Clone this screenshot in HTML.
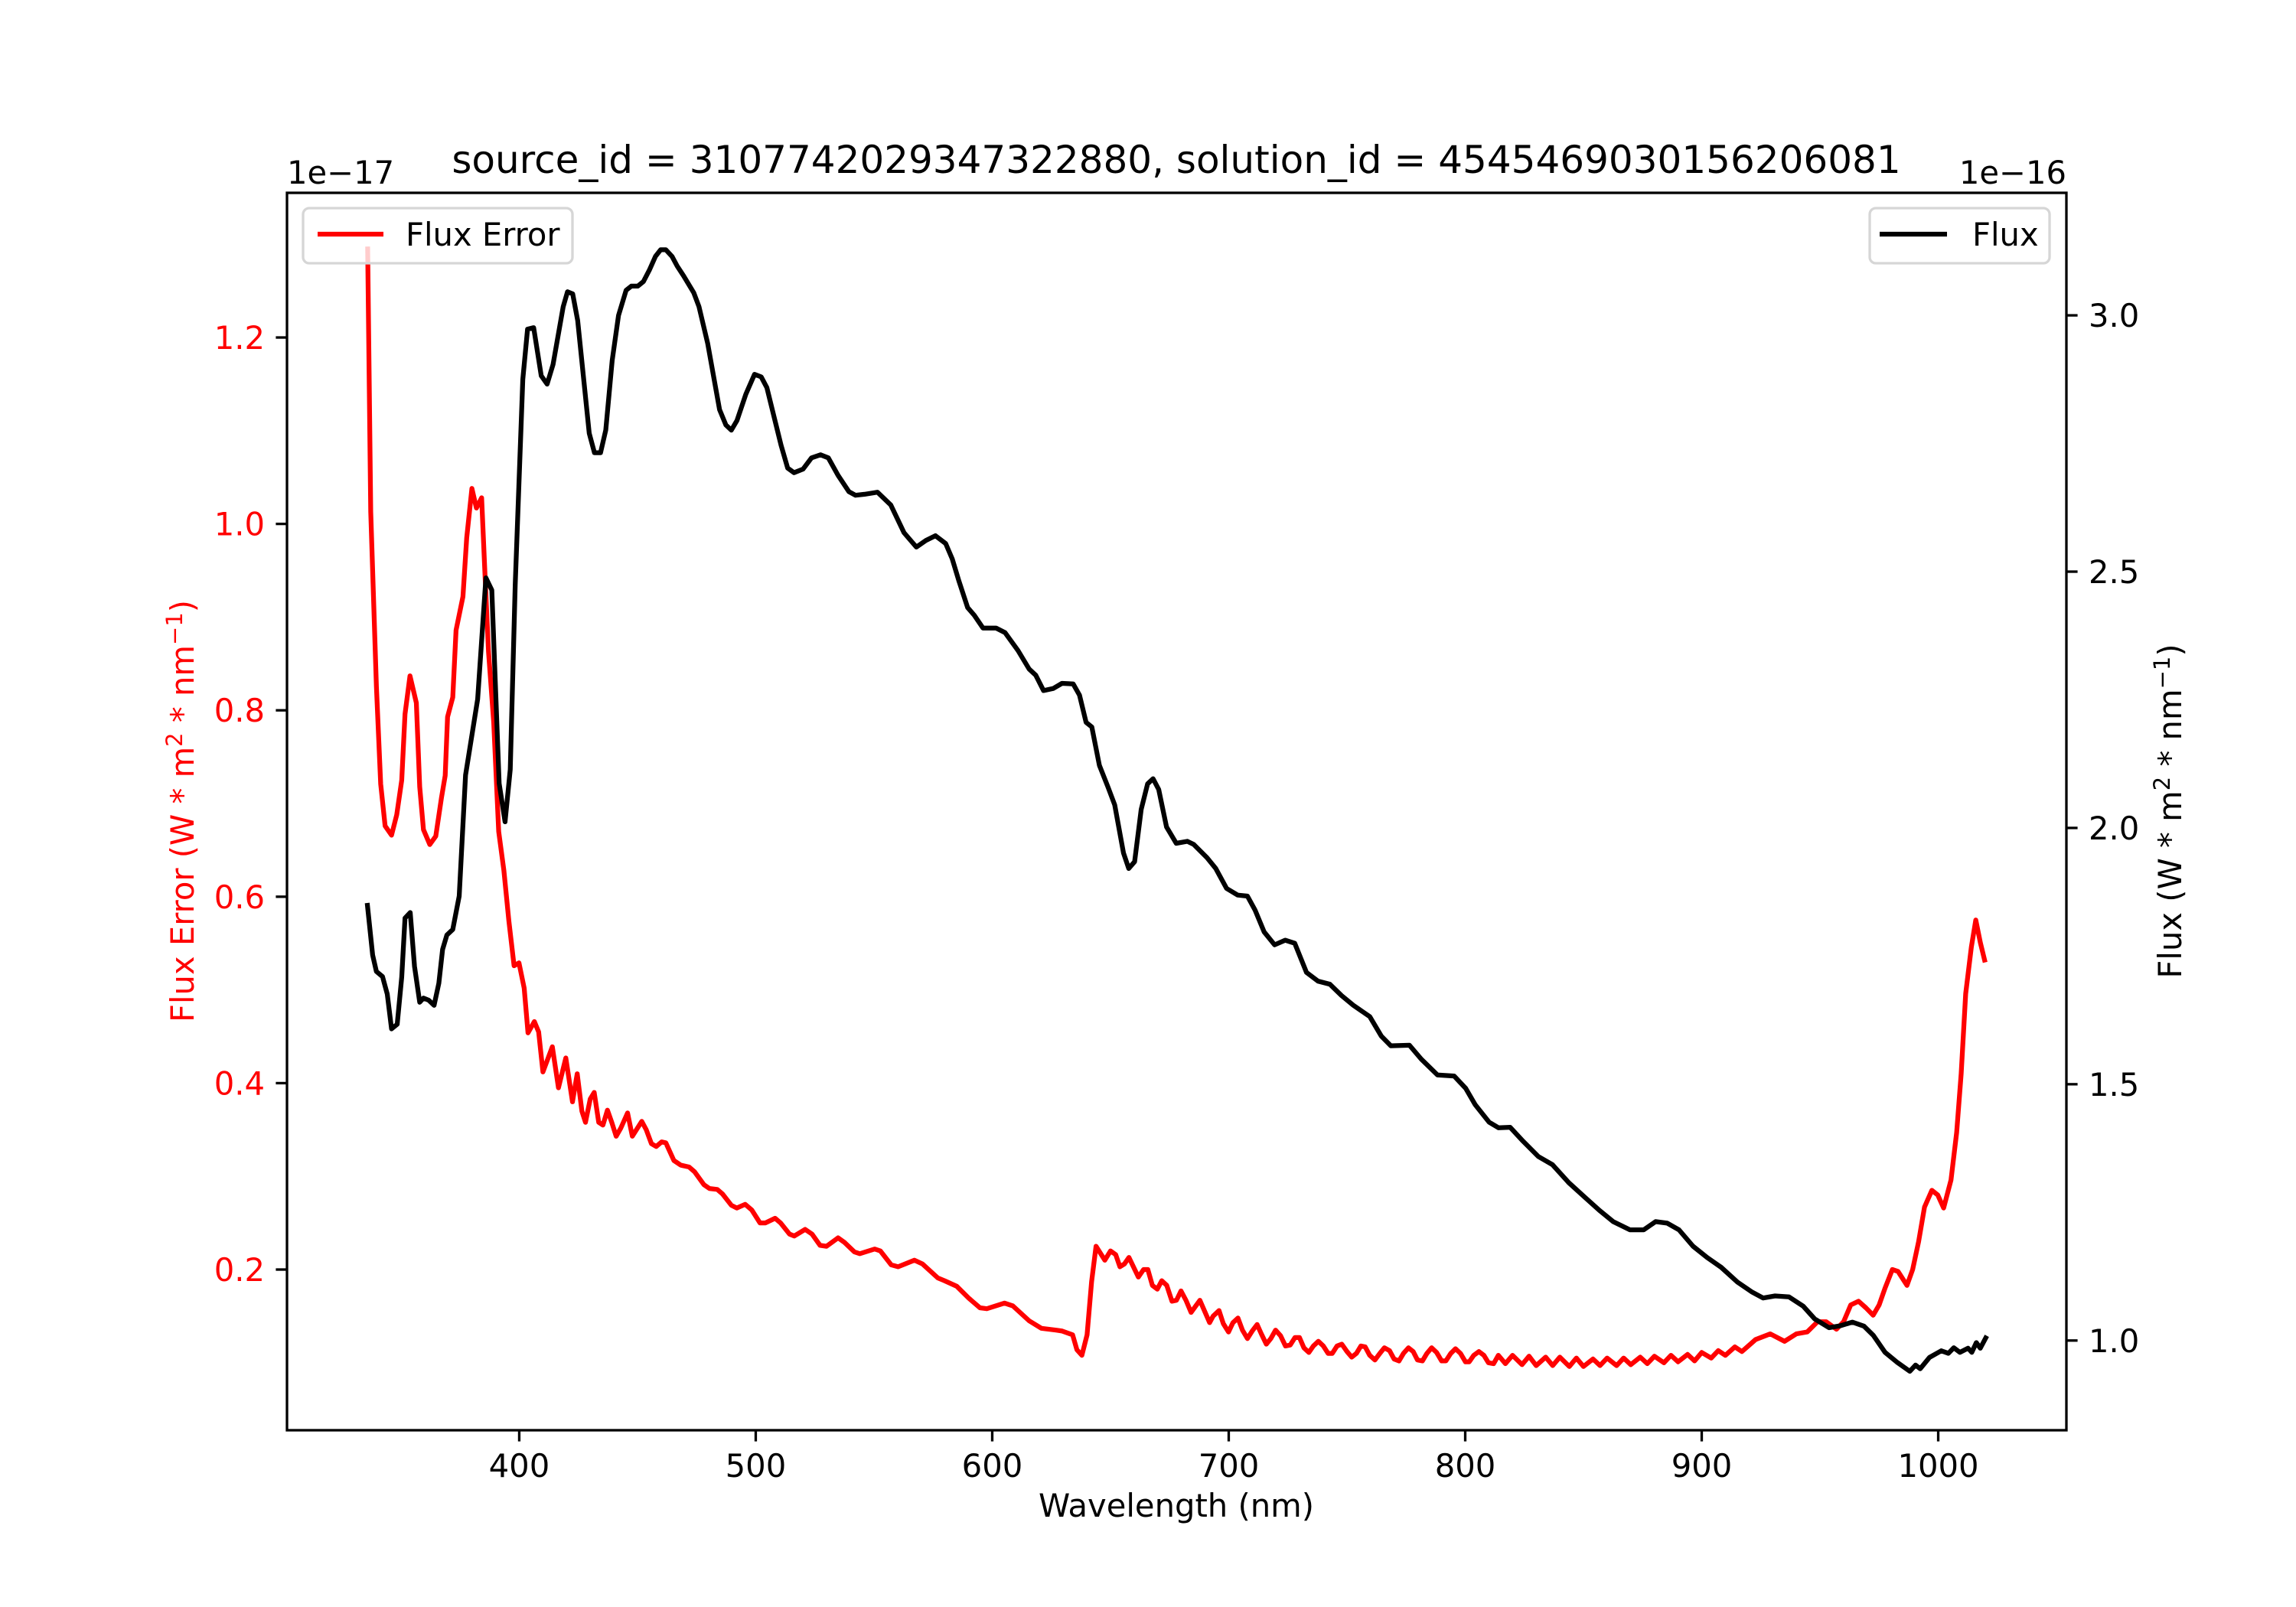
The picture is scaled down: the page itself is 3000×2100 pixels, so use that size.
<!DOCTYPE html>
<html><head><meta charset="utf-8"><style>
html,body{margin:0;padding:0;background:#fff;}
svg{display:block;font-family:"DejaVu Sans","Liberation Sans",sans-serif;}
</style></head><body>
<svg id="chart" width="3000" height="2100" viewBox="0 0 3000 2100" xmlns="http://www.w3.org/2000/svg">
<rect width="3000" height="2100" fill="#fff"/>
<g id="marks"></g>
<g id="axes"></g>
<text x="1537" y="226" font-size="50" text-anchor="middle">source_id = 3107742029347322880, solution_id = 4545469030156206081</text>
<text x="375" y="240" font-size="41.7">1e−17</text>
<text x="2700" y="240" font-size="41.7" text-anchor="end">1e−16</text>
<text x="1537" y="1982" font-size="41.7" text-anchor="middle">Wavelength (nm)</text>
<text fill="#ff0000" font-size="41.7" text-anchor="middle" transform="translate(253,1060) rotate(-90)">Flux Error (W * m<tspan font-size="29" dy="-15">2</tspan><tspan dy="15"> * nm</tspan><tspan font-size="29" dy="-15">−1</tspan><tspan dy="15">)</tspan></text>
<text fill="#000" font-size="41.7" text-anchor="middle" transform="translate(2850,1060) rotate(-90)">Flux (W * m<tspan font-size="29" dy="-15">2</tspan><tspan dy="15"> * nm</tspan><tspan font-size="29" dy="-15">−1</tspan><tspan dy="15">)</tspan></text>
<g>
<rect x="396" y="272" width="352" height="72" rx="8" fill="#fff" fill-opacity="0.8" stroke="#d6d6d6" stroke-width="3.3"/>
<line x1="415" y1="306" x2="501" y2="306" stroke="#ff0000" stroke-width="6.25"/>
<text x="530" y="321" font-size="41.7">Flux Error</text>
</g>
<g>
<rect x="2443" y="272" width="235" height="72" rx="8" fill="#fff" fill-opacity="0.8" stroke="#d6d6d6" stroke-width="3.3"/>
<line x1="2456" y1="306" x2="2544" y2="306" stroke="#000" stroke-width="6.25"/>
<text x="2577" y="321" font-size="41.7">Flux</text>
</g>
</svg>
<script>
const errWl = [335.9,337.2,339.6,341.4,343.3,346,348.2,350.3,351.7,353.8,356.5,357.9,359.5,362.2,364.7,367.1,368.7,369.7,371.9,373.3,376.2,377.8,380,381.9,384.1,385.4,387,389.2,391.3,393.5,395.6,397.8,399.9,402.1,403.7,406.4,408.2,410,414,416.6,419.7,422.5,424.5,426.5,428,430,431.7,433.6,435.4,437.3,439.1,441,443,445.8,447.8,451.8,453.7,455.9,457.9,460.2,462,465.4,468.3,471.8,474.1,478.1,480.4,483.7,486,489.7,492,495.5,498.3,501.8,504.1,508.2,510.5,514.3,516.3,520.9,523.8,527.2,529.9,534.8,537.6,541.7,544,550.3,552.7,557.3,560.2,567.1,570.5,577,579.8,585,590.2,594.8,597.7,605.2,608.7,615.6,620.8,627,629.6,634,635.8,637.9,640.1,642,643.9,647.6,650,652.2,654,655.9,657.8,661.8,664,665.8,667.7,669.8,671.7,673.8,676,677.9,679.8,681.9,684.1,687.8,691.9,693.4,695.9,697.7,699.9,701.8,703.9,705.8,707.9,709.9,712,713.8,715.9,717.8,719.8,721.9,724,726,728,729.9,731.8,733.9,735.8,737.9,740,742,743.8,745.8,747.8,750,752,754,755.9,757.7,759.6,761.8,763.9,765.8,768,769.9,772,773.9,776,778,779.8,781.9,783.8,785.8,787.9,790,791.8,793.9,795.9,798,800.1,801.7,803.6,805.8,807.9,809.8,812,814,817,820,824,827,830,834,837,840,844,847,850,854,857,860,864,867,870,874,877,880,884,887,890,894,897,900,904,907,910,914,917,922.8,929,935,940,944.6,949,952.6,957,960,963,966.3,969.4,972.5,975,977.5,980.6,983,986.8,989.2,991.7,994.2,997.3,999.8,1002.3,1005.4,1007.8,1009.7,1011.6,1014,1015.9,1017.8,1019.6];
const errVal = [1.295,1.013,0.826,0.721,0.676,0.666,0.688,0.725,0.796,0.837,0.808,0.718,0.672,0.656,0.665,0.706,0.73,0.793,0.814,0.886,0.922,0.985,1.038,1.017,1.028,0.953,0.863,0.787,0.67,0.628,0.574,0.526,0.529,0.502,0.454,0.466,0.455,0.412,0.439,0.395,0.427,0.38,0.41,0.37,0.358,0.383,0.39,0.358,0.355,0.371,0.358,0.343,0.352,0.368,0.343,0.359,0.35,0.335,0.332,0.337,0.336,0.317,0.312,0.31,0.305,0.291,0.287,0.286,0.281,0.269,0.266,0.27,0.264,0.25,0.25,0.255,0.25,0.238,0.236,0.243,0.238,0.226,0.225,0.234,0.229,0.219,0.217,0.222,0.22,0.205,0.203,0.21,0.206,0.191,0.188,0.182,0.169,0.159,0.158,0.164,0.161,0.145,0.137,0.135,0.134,0.13,0.114,0.108,0.13,0.187,0.225,0.21,0.22,0.216,0.203,0.206,0.213,0.192,0.2,0.2,0.183,0.179,0.188,0.183,0.166,0.167,0.177,0.167,0.154,0.167,0.143,0.15,0.156,0.142,0.133,0.143,0.148,0.135,0.126,0.134,0.141,0.131,0.12,0.126,0.135,0.129,0.118,0.119,0.127,0.127,0.116,0.111,0.118,0.123,0.118,0.11,0.11,0.118,0.12,0.112,0.106,0.11,0.118,0.117,0.108,0.103,0.11,0.116,0.113,0.104,0.102,0.11,0.116,0.112,0.103,0.102,0.11,0.116,0.111,0.102,0.102,0.11,0.115,0.11,0.101,0.101,0.108,0.112,0.108,0.1,0.099,0.108,0.099,0.108,0.098,0.107,0.097,0.106,0.097,0.106,0.096,0.105,0.096,0.104,0.097,0.105,0.097,0.105,0.098,0.106,0.099,0.107,0.1,0.108,0.101,0.109,0.102,0.111,0.105,0.113,0.108,0.117,0.112,0.125,0.131,0.123,0.131,0.133,0.144,0.144,0.136,0.144,0.162,0.166,0.159,0.151,0.162,0.18,0.2,0.198,0.183,0.2,0.23,0.267,0.285,0.28,0.266,0.296,0.347,0.41,0.496,0.546,0.575,0.551,0.532];
const fluxWl = [335.8,338,339.6,342.2,344.2,346,348.4,350.3,351.7,353.9,355.7,357.9,359.5,361.7,364,366,367.6,369.4,371.9,374.6,377.3,382.4,385.9,388.4,391.5,394,396.2,398.3,401.5,403.5,406.1,409.3,411.8,414.3,418.6,420.4,422.6,424.7,427.4,429.6,431.8,434.4,436.6,439.3,442,445.2,447.4,450.1,452.5,455,457.6,459.8,462,464.6,466.8,469.5,473.8,476,479.7,484.7,487.4,489.7,492.1,495.8,499.5,502.3,504.7,507.9,510.7,513.5,516.2,520,523.6,527.4,530.7,534.8,539.4,542.2,546,551.5,557.1,562.7,567.9,572,576,580.3,583.1,585.9,589.6,592.4,596.1,601.6,605.4,610.9,615.6,618.4,621.7,625.8,629.5,634.2,636.9,639.7,642.1,645.3,649,651.8,655.5,657.7,660.2,663,665.7,668,670.4,673.7,677.8,682.5,685.2,690.8,694.5,699.1,703.8,707.9,711.1,715.0,719.4,723.9,727.9,732.9,737.8,742.8,747.7,752.7,759.6,764.5,768.5,776.4,781.4,788.3,795.3,800.2,804.2,810.1,814.1,819.0,824,830.9,836.9,843.8,850.7,856.7,862.6,869.6,875.5,880.5,885.4,890.4,896.3,902.3,908.2,915.1,921.1,926,931,936.9,942.9,947.8,953.8,958.7,963.7,968.6,972.6,977.5,982.5,988.0,990.4,992.4,996.3,1001.3,1004.3,1006.6,1009.2,1012.6,1014.2,1016.1,1017.8,1020.1];
const fluxVal = [1.849,1.752,1.72,1.71,1.676,1.608,1.617,1.709,1.824,1.835,1.73,1.66,1.668,1.664,1.654,1.697,1.763,1.791,1.802,1.867,2.103,2.251,2.488,2.464,2.087,2.012,2.114,2.475,2.875,2.973,2.976,2.882,2.866,2.904,3.017,3.046,3.042,2.99,2.869,2.77,2.732,2.732,2.776,2.912,3.0,3.049,3.057,3.057,3.066,3.088,3.115,3.128,3.128,3.115,3.096,3.077,3.044,3.017,2.945,2.816,2.786,2.776,2.795,2.846,2.885,2.88,2.859,2.799,2.747,2.702,2.693,2.7,2.722,2.728,2.722,2.688,2.656,2.649,2.651,2.655,2.63,2.576,2.548,2.561,2.57,2.555,2.525,2.482,2.43,2.415,2.39,2.39,2.381,2.346,2.31,2.298,2.268,2.272,2.282,2.281,2.259,2.206,2.197,2.122,2.079,2.045,1.951,1.921,1.934,2.036,2.086,2.096,2.075,2.002,1.97,1.974,1.968,1.942,1.921,1.882,1.869,1.867,1.84,1.797,1.772,1.781,1.775,1.718,1.701,1.695,1.673,1.654,1.632,1.594,1.575,1.576,1.549,1.518,1.516,1.492,1.46,1.426,1.415,1.416,1.391,1.359,1.343,1.308,1.279,1.254,1.232,1.216,1.216,1.232,1.229,1.216,1.184,1.162,1.143,1.114,1.095,1.083,1.087,1.085,1.067,1.042,1.025,1.029,1.036,1.028,1.01,0.977,0.958,0.94,0.952,0.945,0.967,0.98,0.975,0.986,0.977,0.985,0.977,0.996,0.985,1.005];
const xTicks = [400,500,600,700,800,900,1000];
const leftTicks = [0.2,0.4,0.6,0.8,1.0,1.2];
const leftTickLabels = ["0.2","0.4","0.6","0.8","1.0","1.2"];
const rightTicks = [1.0,1.5,2.0,2.5,3.0];
const rightTickLabels = ["1.0","1.5","2.0","2.5","3.0"];

const L=375,R=2700,T=252,B=1869;
const xMin=301.8,xMax=1054.2, lMin=0.0276,lMax=1.3552, rMin=0.825,rMax=3.239;
const sx=v=>L+(v-xMin)/(xMax-xMin)*(R-L);
const syL=v=>B-(v-lMin)/(lMax-lMin)*(B-T);
const syR=v=>B-(v-rMin)/(rMax-rMin)*(B-T);
const NS='http://www.w3.org/2000/svg';
const marks=document.getElementById('marks'), axes=document.getElementById('axes');
function mk(tag,attrs,parent){const e=document.createElementNS(NS,tag);for(const k in attrs)e.setAttribute(k,attrs[k]);parent.appendChild(e);return e;}
function pts(xs,ys,f){return xs.map((x,i)=>sx(x).toFixed(1)+','+f(ys[i]).toFixed(1)).join(' ');}

const clip=mk('clipPath',{id:'plotclip'},marks);
mk('rect',{x:L,y:T,width:R-L,height:B-T},clip);
const errLine=mk('polyline',{points:pts(errWl,errVal,syL),fill:'none',stroke:'#ff0000','stroke-width':6.25,'stroke-linejoin':'round','stroke-linecap':'square','clip-path':'url(#plotclip)'},marks);


const fluxLine=mk('polyline',{points:pts(fluxWl,fluxVal,syR),fill:'none',stroke:'#000','stroke-width':6.25,'stroke-linejoin':'round','stroke-linecap':'square','clip-path':'url(#plotclip)'},marks);



const frame=mk('rect',{x:L,y:T,width:R-L,height:B-T,fill:'none',stroke:'#000','stroke-width':3.3},axes);



xTicks.forEach(v=>{
  const x=sx(v);
  const t=mk('line',{x1:x,y1:B,x2:x,y2:B+14.6,stroke:'#000','stroke-width':3.3},axes);
  
  
  const lb=mk('text',{x:x,y:B+61,'font-size':41.7,'text-anchor':'middle'},axes);
  lb.textContent=String(v);
  
  
});
leftTicks.forEach((v,i)=>{
  const y=syL(v);
  const t=mk('line',{x1:L-14.6,y1:y,x2:L,y2:y,stroke:'#000','stroke-width':3.3},axes);
  
  
  const lb=mk('text',{x:L-29,y:y+15,'font-size':41.7,'text-anchor':'end',fill:'#ff0000'},axes);
  lb.textContent=leftTickLabels[i];
  
  
});
rightTicks.forEach((v,i)=>{
  const y=syR(v);
  const t=mk('line',{x1:R,y1:y,x2:R+14.6,y2:y,stroke:'#000','stroke-width':3.3},axes);
  
  
  const lb=mk('text',{x:R+29,y:y+15,'font-size':41.7,'text-anchor':'start'},axes);
  lb.textContent=rightTickLabels[i];
  
  
});
</script>
</body></html>
